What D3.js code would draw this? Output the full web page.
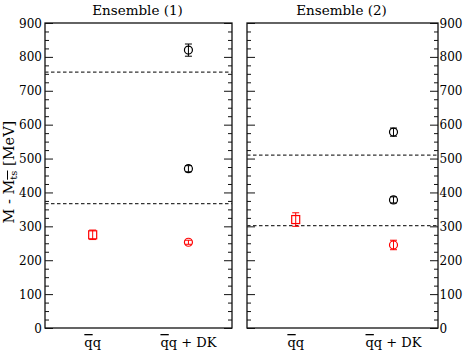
<!DOCTYPE html>
<html>
<head>
<meta charset="utf-8">
<script src="https://cdn.jsdelivr.net/npm/d3@7"></script>
<style>
body { margin: 0; background: #fff; }
</style>
</head>
<body>
<div id="chart"></div>
<script>
// categories on the x axis
var categories = ["qq", "qqDK"];
var yTicks = [0, 100, 200, 300, 400, 500, 600, 700, 800, 900];

// ensemble (1)
var e1Square = [{cat: "qq", val: 275, err: 14}];
var e1Black = [{cat: "qqDK", val: 820, err: 18}, {cat: "qqDK", val: 470, err: 9}];
var e1Red = [{cat: "qqDK", val: 253, err: 6}];
var e1Dashed = [755, 367];

// ensemble (2)
var e2Square = [{cat: "qq", val: 320, err: 20}];
var e2Black = [{cat: "qqDK", val: 578, err: 12}, {cat: "qqDK", val: 378, err: 9}];
var e2Red = [{cat: "qqDK", val: 245, err: 14}];
var e2Dashed = [510, 302];

var FONT = "DejaVu Serif";
var width = 463, height = 352;
var svg = d3.select("#chart").append("svg")
  .attr("width", width).attr("height", height)
  .attr("font-family", FONT);

var y = d3.scaleLinear().domain([0, 900]).range([328, 23]);

var panels = [
  {x0: 45, x1: 232, title: "Ensemble (1)", labelSide: "left",
   square: e1Square, black: e1Black, red: e1Red, dashed: e1Dashed},
  {x0: 247, x1: 438, title: "Ensemble (2)", labelSide: "right",
   square: e2Square, black: e2Black, red: e2Red, dashed: e2Dashed}
];

panels.forEach(function(p) {
  var w = p.x1 - p.x0;
  var x = d3.scalePoint().domain(categories)
    .range([p.x0 + 0.255 * w, p.x0 + 0.767 * w]);
  var g = svg.append("g");

  // frame
  g.append("rect")
    .attr("x", p.x0).attr("y", y(900))
    .attr("width", w).attr("height", y(0) - y(900))
    .attr("fill", "none").attr("stroke", "#111").attr("stroke-width", 1.3);

  // ticks inside both sides
  var minor = d3.range(0, 901, 25).filter(function(d) { return d % 100 != 0; });
  var leftAx = d3.axisRight(y).tickValues(yTicks).tickSize(8).tickFormat("");
  var leftMin = d3.axisRight(y).tickValues(minor).tickSize(4).tickFormat("");
  var rightAx = d3.axisLeft(y).tickValues(yTicks).tickSize(8).tickFormat("");
  var rightMin = d3.axisLeft(y).tickValues(minor).tickSize(4).tickFormat("");
  [[leftAx, p.x0], [leftMin, p.x0], [rightAx, p.x1], [rightMin, p.x1]].forEach(function(a) {
    var ag = g.append("g").attr("transform", "translate(" + a[1] + ",0)").call(a[0]);
    ag.select(".domain").remove();
    ag.selectAll("line").attr("stroke", "#111").attr("stroke-width", 1);
  });

  // tick labels
  g.selectAll(".ylab").data(yTicks).enter().append("text")
    .attr("x", p.labelSide == "left" ? p.x0 - 3 : p.x1 + 1.5)
    .attr("y", function(d) { return y(d) + 4.5; })
    .attr("text-anchor", p.labelSide == "left" ? "end" : "start")
    .attr("font-family", FONT).attr("font-size", 12).attr("fill", "#000")
    .text(function(d) { return d; });

  // title
  g.append("text").attr("x", (p.x0 + p.x1) / 2 - 1).attr("y", 15)
    .attr("text-anchor", "middle").attr("font-family", FONT)
    .attr("font-size", 13.5).attr("fill", "#000").text(p.title);

  // category labels
  categories.forEach(function(c) {
    var t = g.append("text").attr("x", x(c)).attr("y", 347)
      .attr("text-anchor", "middle").attr("font-family", FONT)
      .attr("font-size", 13).attr("fill", "#000");
    t.append("tspan").style("text-decoration", "overline").text("q");
    t.append("tspan").text(c == "qq" ? "q" : "q + DK");
  });

  // dashed lines
  g.selectAll(".dash").data(p.dashed).enter().append("line")
    .attr("x1", p.x0).attr("x2", p.x1)
    .attr("y1", function(d) { return y(d); }).attr("y2", function(d) { return y(d); })
    .attr("stroke", "#333").attr("stroke-width", 1.1).attr("stroke-dasharray", "3.5,2.5");

  // error bars + markers
  function errBars(data, color) {
    data.forEach(function(d) {
      var cx = x(d.cat);
      g.append("line").attr("x1", cx).attr("x2", cx)
        .attr("y1", y(d.val + d.err)).attr("y2", y(d.val - d.err))
        .attr("stroke", color).attr("stroke-width", 1);
      [d.val + d.err, d.val - d.err].forEach(function(v) {
        g.append("line").attr("x1", cx - 3.5).attr("x2", cx + 3.5)
          .attr("y1", y(v)).attr("y2", y(v))
          .attr("stroke", color).attr("stroke-width", 1);
      });
    });
  }
  errBars(p.square, "#ff0000");
  errBars(p.black, "#000");
  errBars(p.red, "#ff0000");

  g.selectAll(".sq").data(p.square).enter().append("rect")
    .attr("x", function(d) { return x(d.cat) - 4; })
    .attr("y", function(d) { return y(d.val) - 4; })
    .attr("width", 8).attr("height", 8)
    .attr("fill", "none").attr("stroke", "#ff0000").attr("stroke-width", 1.2);

  g.selectAll(".bc").data(p.black).enter().append("circle")
    .attr("cx", function(d) { return x(d.cat); })
    .attr("cy", function(d) { return y(d.val); })
    .attr("r", 4).attr("fill", "none").attr("stroke", "#000").attr("stroke-width", 1.2);

  g.selectAll(".rc").data(p.red).enter().append("circle")
    .attr("cx", function(d) { return x(d.cat); })
    .attr("cy", function(d) { return y(d.val); })
    .attr("r", 4).attr("fill", "none").attr("stroke", "#ff0000").attr("stroke-width", 1.2);
});

// y axis title
var yt = svg.append("text")
  .attr("transform", "translate(14," + y(460) + ") rotate(-90)")
  .attr("text-anchor", "middle").attr("font-family", FONT)
  .attr("font-size", 14.5).attr("fill", "#000");
yt.append("tspan").text("M - M");
yt.append("tspan").attr("baseline-shift", "-25%").attr("font-size", 10)
  .style("text-decoration", "overline").text("ts");
yt.append("tspan").text(" [MeV]");
</script>
</body>
</html>
